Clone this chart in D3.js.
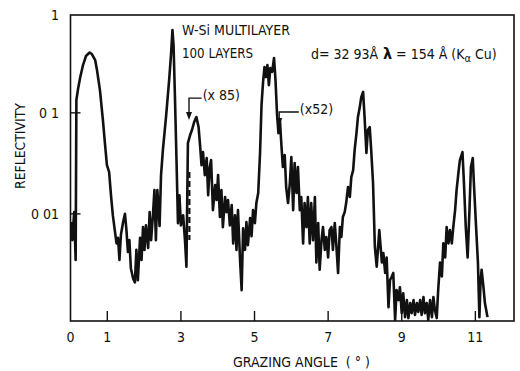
<!DOCTYPE html>
<html>
<head>
<meta charset="utf-8">
<script src="https://cdn.jsdelivr.net/npm/d3@7"></script>
<style>
  body { margin: 0; background: #fff; }
  svg text { font-family: "DejaVu Sans Condensed", "Liberation Sans Narrow", sans-serif; fill: #111; }
</style>
</head>
<body>
<svg id="chart" width="520" height="371"></svg>
<script>
// grazing angle (deg) and reflectivity
const angle = [
  0.01,0.05,0.10,0.14,0.16,0.20,0.26,0.34,0.42,0.52,
  0.58,0.67,0.72,0.80,0.88,0.94,0.99,1.05,1.10,1.15,
  1.21,1.25,1.29,1.33,1.37,1.43,1.48,1.52,1.56,1.60,
  1.64,1.70,1.75,1.79,1.83,1.89,1.93,1.97,2.01,2.05,
  2.11,2.15,2.19,2.24,2.28,2.32,2.36,2.42,2.46,2.51,
  2.60,2.68,2.73,2.77,2.80,2.84,2.88,2.92,2.96,3.00,
  3.06,3.11,3.15,3.19,3.25,3.30,3.36,3.42,3.48,3.52,
  3.56,3.60,3.65,3.70,3.74,3.78,3.82,3.87,3.93,3.97,
  4.01,4.06,4.10,4.14,4.20,4.24,4.28,4.33,4.38,4.42,
  4.47,4.51,4.55,4.61,4.65,4.69,4.74,4.78,4.82,4.88,
  4.92,4.96,5.01,5.05,5.10,5.15,5.19,5.23,5.27,5.31,
  5.35,5.39,5.43,5.48,5.53,5.57,5.61,5.65,5.69,5.73,
  5.77,5.82,5.86,5.91,5.96,6.00,6.05,6.09,6.14,6.18,
  6.23,6.27,6.32,6.36,6.41,6.45,6.50,6.54,6.59,6.64,
  6.68,6.73,6.77,6.82,6.86,6.91,6.95,7.00,7.04,7.09,
  7.13,7.18,7.22,7.27,7.32,7.36,7.40,7.45,7.49,7.54,
  7.59,7.63,7.68,7.72,7.77,7.81,7.86,7.90,7.95,7.99,
  8.04,8.08,8.13,8.17,8.22,8.27,8.32,8.39,8.46,8.50,
  8.55,8.59,8.64,8.68,8.73,8.77,8.82,8.86,8.91,8.95,
  9.00,9.04,9.09,9.14,9.18,9.23,9.27,9.32,9.36,9.41,
  9.45,9.50,9.54,9.59,9.63,9.68,9.72,9.77,9.82,9.86,
  9.90,9.95,9.99,10.04,10.09,10.13,10.18,10.22,10.27,10.31,
  10.36,10.40,10.45,10.49,10.54,10.58,10.65,10.69,10.74,10.79,
  10.84,10.88,10.93,10.96,11.02,11.07,11.11,11.14,11.17,11.22,
  11.26,11.33
];
const reflectivity = [
  0.0083,0.0055,0.0104,0.0035,0.134,0.168,0.221,0.297,0.365,0.395,
  0.382,0.333,0.265,0.168,0.085,0.048,0.0304,0.0259,0.0153,0.0097,
  0.0066,0.0051,0.0058,0.0035,0.0062,0.0083,0.0100,0.0069,0.0042,0.0055,
  0.0029,0.0023,0.0021,0.0044,0.0022,0.0058,0.0035,0.0074,0.0044,0.0077,
  0.0046,0.0104,0.0055,0.0097,0.0172,0.0055,0.0172,0.0076,0.0242,0.0428,
  0.095,0.211,0.373,0.66,0.469,0.134,0.0341,0.0081,0.0153,0.0077,
  0.0097,0.0055,0.0030,0.0502,0.0603,0.0676,0.081,0.091,0.0723,0.048,
  0.0304,0.0409,0.0242,0.0357,0.0153,0.0284,0.0341,0.0109,0.0193,0.0137,
  0.0242,0.0093,0.0172,0.0074,0.0147,0.0104,0.0137,0.0077,0.0122,0.0051,
  0.0097,0.0044,0.0109,0.0033,0.00176,0.0072,0.0044,0.0083,0.0049,0.0091,
  0.0060,0.0109,0.0081,0.0128,0.0161,0.040,0.119,0.197,0.284,0.226,
  0.297,0.188,0.278,0.254,0.349,0.211,0.0995,0.063,0.085,0.048,
  0.0291,0.0382,0.0184,0.0128,0.0202,0.0365,0.0109,0.0319,0.0161,0.0291,
  0.0109,0.0147,0.0051,0.0128,0.0074,0.0147,0.0051,0.0128,0.0055,0.0147,
  0.0033,0.0081,0.0028,0.0055,0.0074,0.0044,0.0059,0.0037,0.0069,0.0074,
  0.0044,0.0081,0.0051,0.0026,0.0074,0.0059,0.0093,0.0104,0.0128,0.0184,
  0.0147,0.0231,0.0271,0.0428,0.063,0.091,0.114,0.143,0.161,0.091,
  0.040,0.0676,0.0723,0.0428,0.0202,0.0047,0.0030,0.0069,0.0033,0.0041,
  0.0026,0.0037,0.00119,0.0022,0.0024,0.0026,0.00089,0.00176,0.0014,0.00188,
  0.00104,0.00164,0.00095,0.0014,0.00093,0.00131,0.00104,0.0014,0.00100,0.00131,
  0.00107,0.0014,0.00100,0.0015,0.00104,0.00131,0.00089,0.0014,0.00095,0.0015,
  0.00112,0.00093,0.00176,0.0033,0.0024,0.0051,0.0037,0.0074,0.0051,0.0069,
  0.0051,0.0074,0.0109,0.0172,0.0254,0.0341,0.0409,0.0202,0.0074,0.0037,
  0.0109,0.0291,0.0357,0.0202,0.0074,0.0033,0.00095,0.0021,0.0028,0.00188,
  0.00131,0.00095
];

const xTickMarks = [1, 3, 5, 7, 9, 11];
const xTickLabels = [0, 1, 3, 5, 7, 9, 11];
const yTickMarks = [0.1, 0.01];
const yTickValues = [1, 0.1, 0.01];
const yTickLabels = ["1", "0 1", "0 01"];

// scale factors printed next to the curve, and the dashed join at ~3.2 deg
const scaleNotes = [
  { text: "(x 85)", angle: 3.22, from: 0.14, to: 0.085, labelAt: 3.59 },
  { text: "(x52)",  angle: 5.67, from: 0.102, to: 0.074, labelAt: 6.23 }
];
const dashedJoin = { angle: 3.23, from: 0.026, to: 0.0055 };

const svg = d3.select('#chart');
const x = d3.scaleLinear().domain([0, 12.05]).range([70.5, 514]);
const y = d3.scaleLog().domain([8.7e-4, 0.93]).range([321, 15]);
const [x0, x1] = x.range();
const [yb, yt] = y.range();

svg.append('defs').append('clipPath').attr('id', 'plot')
  .append('rect').attr('x', x0).attr('y', yt).attr('width', x1 - x0).attr('height', yb - yt);

svg.append('rect')
  .attr('x', x0).attr('y', yt).attr('width', x1 - x0).attr('height', yb - yt)
  .attr('fill', 'none').attr('stroke', '#111').attr('stroke-width', 1.6);

svg.append('g').selectAll('line').data(xTickMarks).enter().append('line')
  .attr('x1', d => x(d)).attr('x2', d => x(d))
  .attr('y1', yb).attr('y2', yb - 10)
  .attr('stroke', '#111').attr('stroke-width', 1.4);

svg.append('g').selectAll('line').data(yTickMarks).enter().append('line')
  .attr('x1', x0).attr('x2', x0 + 10)
  .attr('y1', d => y(d)).attr('y2', d => y(d))
  .attr('stroke', '#111').attr('stroke-width', 1.4);

svg.append('g').selectAll('text').data(xTickLabels).enter().append('text')
  .attr('x', d => x(d)).attr('y', 342)
  .attr('text-anchor', 'middle').attr('font-size', 14)
  .text(d => d);

svg.append('g').selectAll('text').data(yTickValues).enter().append('text')
  .attr('x', 59).attr('y', (d, i) => y(d) + 5 + (i === 0 ? 3 : 0))
  .attr('text-anchor', 'end').attr('font-size', 14)
  .text((d, i) => yTickLabels[i]);

const points = angle.map((a, i) => [a, reflectivity[i]]);
const line = d3.line().x(d => x(d[0])).y(d => y(d[1]));

svg.append('path')
  .datum(points)
  .attr('clip-path', 'url(#plot)')
  .attr('d', line)
  .attr('fill', 'none')
  .attr('stroke', '#111')
  .attr('stroke-width', 2.6)
  .attr('stroke-linejoin', 'round');

svg.append('line')
  .attr('x1', x(dashedJoin.angle)).attr('x2', x(dashedJoin.angle))
  .attr('y1', y(dashedJoin.from)).attr('y2', y(dashedJoin.to))
  .attr('stroke', '#111').attr('stroke-width', 2.2)
  .attr('stroke-dasharray', '6,3');

const notes = svg.append('g').selectAll('g').data(scaleNotes).enter().append('g');
notes.append('path')
  .attr('d', d => `M${x(d.labelAt) - 1},${y(d.from)}H${x(d.angle)}V${y(d.to) - 6}`)
  .attr('fill', 'none').attr('stroke', '#111').attr('stroke-width', 1.4);
notes.append('path')
  .attr('d', d => `M${x(d.angle) - 3},${y(d.to) - 8}L${x(d.angle) + 3},${y(d.to) - 8}L${x(d.angle)},${y(d.to)}Z`)
  .attr('fill', '#111');
notes.append('text')
  .attr('x', d => x(d.labelAt)).attr('y', d => y(d.from) + 2)
  .attr('font-size', 14)
  .text(d => d.text);

svg.append('text')
  .attr('x', 182).attr('y', 35).attr('font-size', 14)
  .attr('textLength', 108).attr('lengthAdjust', 'spacingAndGlyphs')
  .text('W-Si MULTILAYER');
svg.append('text')
  .attr('x', 182).attr('y', 58).attr('font-size', 14)
  .attr('textLength', 71).attr('lengthAdjust', 'spacingAndGlyphs')
  .text('100 LAYERS');
svg.append('text')
  .attr('x', 311).attr('y', 59).attr('font-size', 14)
  .text('d= 32 93Å');

const lam = svg.append('text').attr('x', 383).attr('y', 59).attr('font-size', 14);
lam.append('tspan').attr('font-weight', 'bold').attr('font-size', 16).text('λ');
lam.append('tspan').text(' = 154 Å  (K');
lam.append('tspan').attr('font-size', 11).attr('dy', 3).text('α');
lam.append('tspan').attr('dy', -3).text('  Cu)');

svg.append('text')
  .attr('transform', 'translate(25,146) rotate(-90)')
  .attr('text-anchor', 'middle').attr('font-size', 14)
  .attr('textLength', 86).attr('lengthAdjust', 'spacingAndGlyphs')
  .text('REFLECTIVITY');

svg.append('text')
  .attr('x', 233).attr('y', 367).attr('font-size', 14)
  .attr('xml:space', 'preserve')
  .text('GRAZING ANGLE  ( ° )');
</script>
</body>
</html>
